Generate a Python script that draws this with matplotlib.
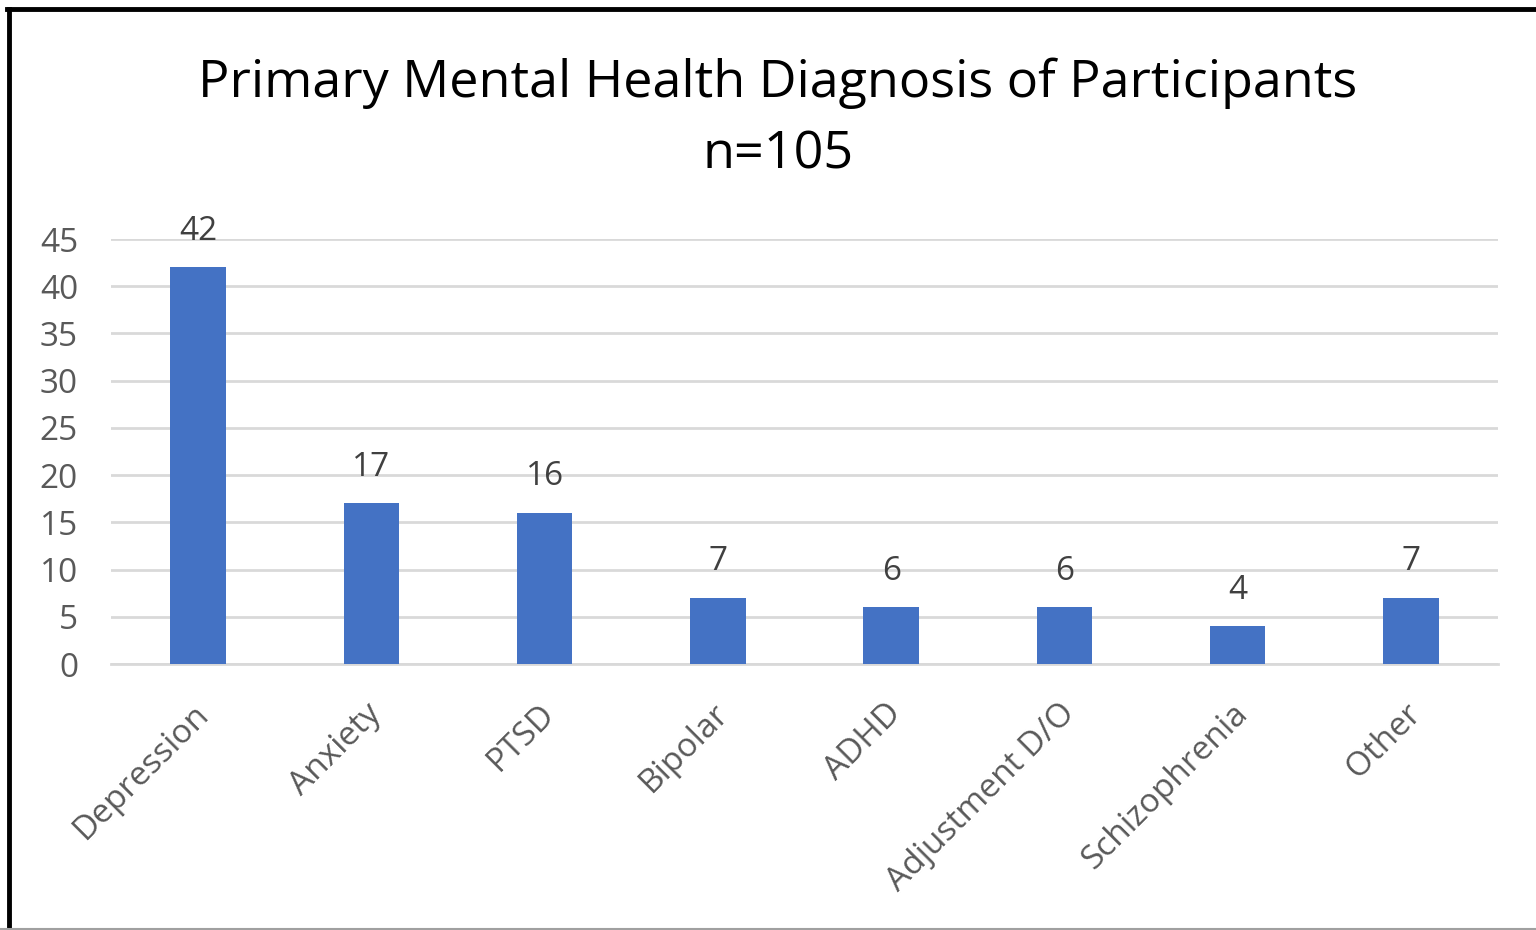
import matplotlib
matplotlib.use("Agg")
import matplotlib.pyplot as plt
from matplotlib.lines import Line2D
from matplotlib.transforms import ScaledTranslation

categories = ["Depression", "Anxiety", "PTSD", "Bipolar", "ADHD",
              "Adjustment D/O", "Schizophrenia", "Other"]
counts = [42, 17, 16, 7, 6, 6, 4, 7]
yticks = [0, 5, 10, 15, 20, 25, 30, 35, 40, 45]

plt.rcParams['font.family'] = ['Open Sans', 'DejaVu Sans']

W, H = 1536, 930
fig = plt.figure(figsize=(W / 100, H / 100), dpi=100)
ax = fig.add_axes([111.4 / W, 1 - 664 / H, (1497.6 - 111.4) / W, (664 - 239) / H])

x = list(range(len(categories)))
ax.bar(x, counts, width=0.32, color="#4472C4", zorder=3)
ax.set_xlim(-0.5, len(categories) - 0.5)
ax.set_ylim(0, 45)
ax.set_yticks(yticks)
ax.set_yticklabels([str(t) for t in yticks], fontsize=24, color="#595959")
ax.yaxis.grid(True, color="#D9D9D9", linewidth=2, zorder=0)
ax.set_axisbelow(True)
for s in ["top", "right", "left"]:
    ax.spines[s].set_visible(False)
ax.spines["bottom"].set_color("#D9D9D9")
ax.spines["bottom"].set_linewidth(2)
ax.tick_params(axis="y", length=0, pad=24)
ax.tick_params(axis="x", length=0, pad=24)
ax.set_xticks(x)
ax.set_xticklabels(categories, rotation=45, ha="right", va="top",
                   rotation_mode="anchor", fontsize=24, color="#595959")
shift = ScaledTranslation(-6 / 100, 0, fig.dpi_scale_trans)
for lbl in ax.get_xticklabels():
    lbl.set_transform(lbl.get_transform() + shift)

for xi, v in zip(x, counts):
    ax.annotate(str(v), (xi, v), xytext=(0, 14), textcoords="offset points",
                ha="center", va="bottom", fontsize=24, color="#404040")

fig.text(778 / W, 1 - 83 / H, "Primary Mental Health Diagnosis of Participants",
         ha="center", va="center", fontsize=37.5, color="#000000")
fig.text(778 / W, 1 - 155 / H, "n=105", ha="center", va="center",
         fontsize=37.5, color="#000000")

# frame
fig.add_artist(Line2D([9 / W, 9 / W], [0, 1 - 9 / H], transform=fig.transFigure,
                      color="black", linewidth=3.5))
fig.add_artist(Line2D([7 / W, 1], [1 - 9 / H, 1 - 9 / H], transform=fig.transFigure,
                      color="black", linewidth=3.5))
fig.add_artist(Line2D([0, 1], [1 - 929 / H, 1 - 929 / H], transform=fig.transFigure,
                      color="#A0A0A0", linewidth=1.5))

fig.savefig("out.png", dpi=100, facecolor="white")
